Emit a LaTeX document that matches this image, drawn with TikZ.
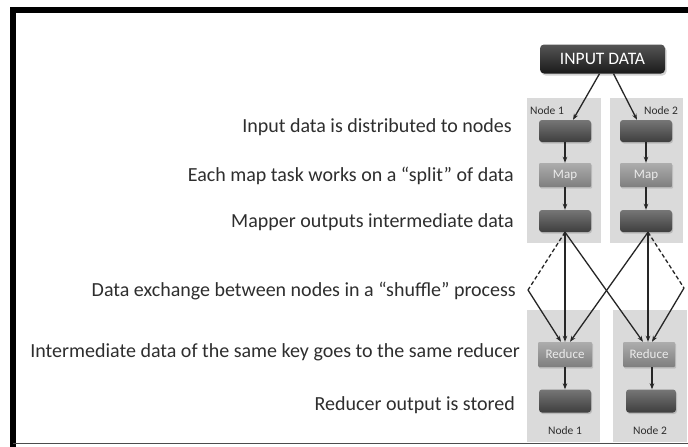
\documentclass[tikz,border=0pt]{standalone}
\usepackage{fontspec}
\setmainfont{Carlito}
\usetikzlibrary{arrows.meta,shadows,calc}
\definecolor{txt}{HTML}{2E2E2E}
\definecolor{panel}{HTML}{DADADA}
\definecolor{dtop}{HTML}{767676}
\definecolor{dbot}{HTML}{3E3E3E}
\definecolor{mtop}{HTML}{ADADAD}
\definecolor{mbot}{HTML}{7E7E7E}
\definecolor{itop}{HTML}{555555}
\definecolor{ibot}{HTML}{1A1A1A}
\begin{document}
\begin{tikzpicture}[x=1pt,y=-1pt,
  lbl/.style={anchor=east,font=\fontsize{20}{22}\selectfont,text=txt,inner sep=0pt},
  panelbox/.style={fill=panel,draw=none},
  darkbox/.style={rounded corners=3pt,top color=dtop,bottom color=dbot,draw=none,
     minimum width=52pt,minimum height=22pt,inner sep=0pt,
     drop shadow={opacity=0.35,shadow xshift=1pt,shadow yshift=-1.5pt}},
  midbox/.style={rounded corners=1pt,top color=mtop,bottom color=mbot,draw=none,
     minimum width=52pt,minimum height=24pt,inner sep=0pt,text=white!92!black,
     font=\fontsize{13}{14}\selectfont,
     drop shadow={opacity=0.3,shadow xshift=1pt,shadow yshift=-1.5pt}},
  inbox/.style={rounded corners=4pt,top color=itop,bottom color=ibot,draw=none,
     minimum width=125pt,minimum height=29pt,inner sep=0pt,text=white,
     font=\fontsize{17.5}{18}\selectfont,
     drop shadow={opacity=0.35,shadow xshift=1.5pt,shadow yshift=-2pt}},
  nlbl/.style={font=\fontsize{11.5}{12}\selectfont,text=txt,inner sep=0pt},
  arr/.style={-{Stealth[length=6pt,width=4.5pt]},line width=1.3pt,draw=black!85},
  ln/.style={line width=1.3pt,draw=black!85},
  dln/.style={line width=1.3pt,draw=black!85,dash pattern=on 4pt off 2.5pt}]
\useasboundingbox (0,0) rectangle (688,447);
\fill[white] (0,0) rectangle (688,447);
% frame
\draw[line width=6pt,black] (13,450) -- (13,9.5) -- (690,9.5);
\draw[line width=1.2pt,black!70] (13,443.5) -- (690,443.5);
% panels
\fill[panel] (527,98) rectangle (601,243);
\fill[panel] (610,98) rectangle (683,243);
\fill[panel] (527,310) rectangle (600,442);
\fill[panel] (613,310) rectangle (687,442);
% input
\node[inbox] (in) at (602.5,59) {INPUT DATA};
% node labels
\node[nlbl] (n1t) at (547,111) {Node 1};
\node[nlbl] (n2t) at (661,111) {Node 2};
\node[nlbl] (n1b) at (565,431) {Node 1};
\node[nlbl] (n2b) at (650,431) {Node 2};
% boxes
\node[darkbox] (a1) at (565,131) {};
\node[darkbox] (a2) at (646,131) {};
\node[midbox] (m1) at (565,175) {Map};
\node[midbox] (m2) at (646,175) {Map};
\node[darkbox] (b1) at (565,221) {};
\node[darkbox] (b2) at (646,221) {};
\node[midbox,minimum width=54pt,minimum height=25pt] (r1) at (565,354.5) {Reduce};
\node[midbox,minimum height=25pt] (r2) at (649,354.5) {Reduce};
\node[darkbox,minimum height=23pt] (o1) at (565,401) {};
\node[darkbox,minimum width=50pt,minimum height=23pt] (o2) at (651,401) {};
% arrows input
\draw[arr] ($(in.south)+(-3,0)$) -- ($(a1.north)+(8,0)$);
\draw[arr] ($(in.south)+(11,0)$) -- ($(a2.north)+(-9,0)$);
% within nodes
\draw[arr] (a1) -- (m1);
\draw[arr] (a2) -- (m2);
\draw[arr] (m1) -- (b1);
\draw[arr] (m2) -- (b2);
\draw[arr] (r1) -- (o1);
\draw[arr] ($(r2.south)+(3,0)$) -- ($(o2.north)+(1,0)$);
% shuffle
\coordinate (lp) at (528,290);
\coordinate (rp) at (684,288);
\draw[arr] (b1.south) -- (r1.north);
\draw[arr] ($(b2.south)+(2,0)$) -- ($(r2.north)+(-1,0)$);
\draw[arr] (b1.south) -- ($(r2.north)+(-6,0)$);
\draw[arr] ($(b2.south)+(2,0)$) -- ($(r1.north)+(5,0)$);
\draw[dln] (b1.south) -- (lp);
\draw[arr] (lp) -- ($(r1.north)+(-4,0)$);
\draw[dln] ($(b2.south)+(2,0)$) -- (rp);
\draw[arr] (rp) -- ($(r2.north)+(3,0)$);
% labels
\node[lbl] (t1) at (512,127) {Input data is distributed to nodes};
\node[lbl] (t2) at (514,176) {Each map task works on a “split” of data};
\node[lbl] (t3) at (514,222) {Mapper outputs intermediate data};
\node[lbl] (t4) at (516,291) {Data exchange between nodes in a “shuffle” process};
\node[lbl] (t5) at (520,352) {Intermediate data of the same key goes to the same reducer};
\node[lbl] (t6) at (515,405) {Reducer output is stored};
\end{tikzpicture}
\end{document}
